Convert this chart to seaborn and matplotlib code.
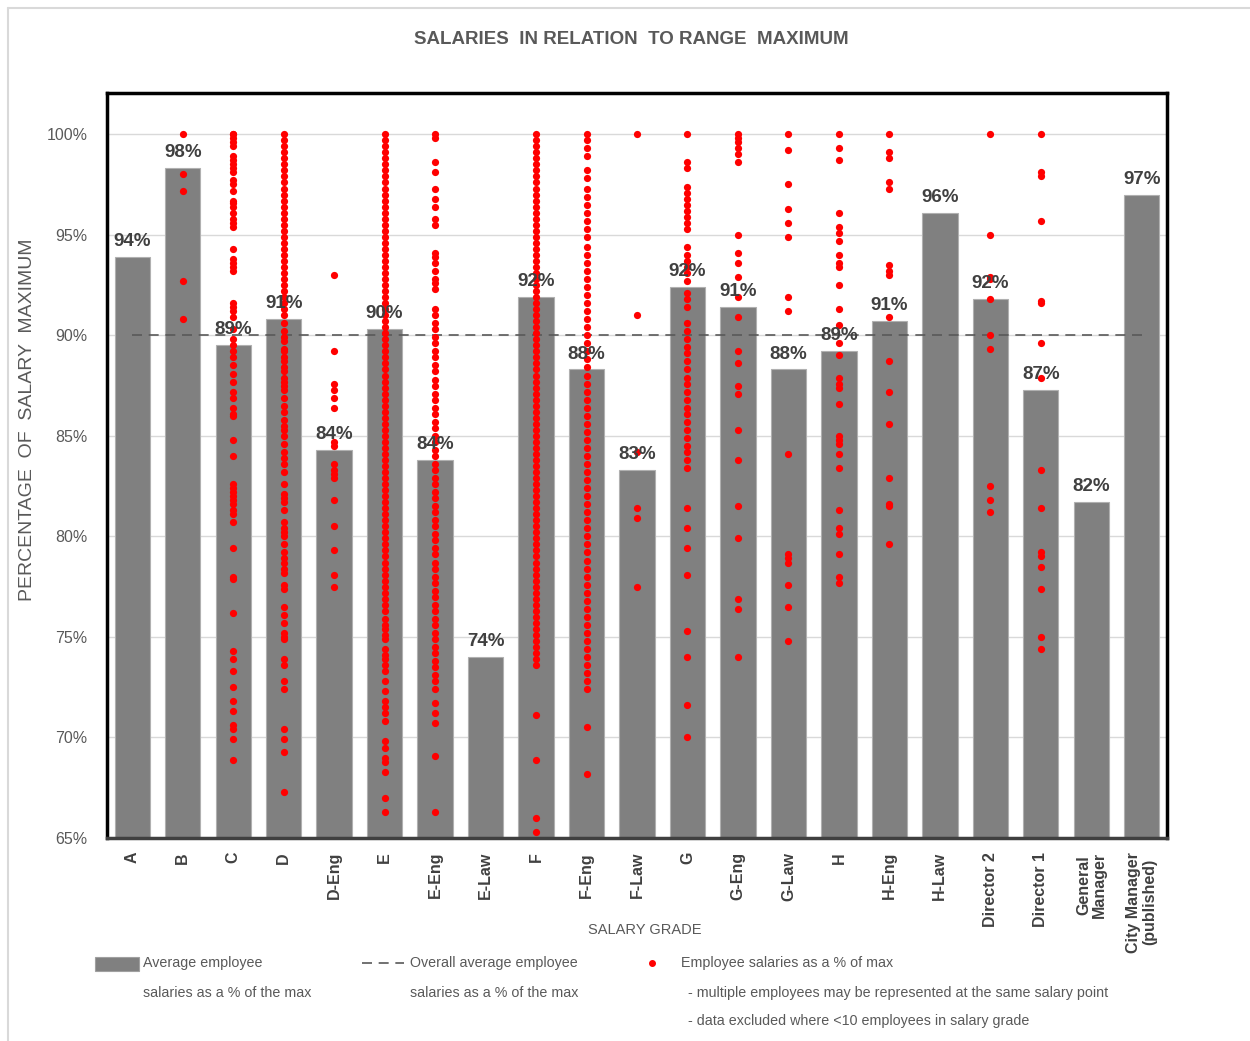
import pandas as pd
import matplotlib
matplotlib.use('Agg')
import matplotlib.pyplot as plt
import seaborn as sns
from matplotlib import font_manager
from matplotlib.patches import Rectangle
from matplotlib.lines import Line2D

# salary grades and average % of range maximum
grades = ['A', 'B', 'C', 'D', 'D-Eng', 'E', 'E-Eng', 'E-Law', 'F', 'F-Eng', 'F-Law',
          'G', 'G-Eng', 'G-Law', 'H', 'H-Eng', 'H-Law', 'Director 2', 'Director 1',
          'General\nManager', 'City Manager\n(published)']
avg_pct = [93.9, 98.3, 89.5, 90.8, 84.3, 90.3, 83.8, 74.0, 91.9, 88.3, 83.3,
           92.4, 91.4, 88.3, 89.2, 90.7, 96.1, 91.8, 87.3, 81.7, 97.0]
bar_labels = ['94%', '98%', '89%', '91%', '84%', '90%', '84%', '74%', '92%', '88%', '83%',
              '92%', '91%', '88%', '89%', '91%', '96%', '92%', '87%', '82%', '97%']
overall_avg = 90.0

# individual employees (% of max)
dots_B = [100.0, 98.0, 97.2, 92.7, 90.8]
dots_C = [100.0, 100.0, 99.8, 99.6, 99.4, 98.9, 98.7, 98.5, 98.3, 98.1, 97.7, 97.5, 97.2,
          96.7, 96.6, 96.4, 96.1, 95.8, 95.6, 95.4, 94.3, 93.8, 93.6, 93.4, 93.2, 91.6,
          91.4, 91.2, 90.9, 90.3, 89.8, 89.5, 89.2, 88.9, 88.5, 88.1, 87.7, 87.2, 86.9,
          86.4, 86.1, 86.0, 84.8, 84.0, 82.6, 82.4, 82.2, 82.0, 81.8, 81.6, 81.3, 81.1,
          80.7, 79.4, 78.0, 77.9, 76.2, 74.3, 73.9, 73.3, 72.5, 71.8, 71.3, 70.6, 70.4,
          69.9, 68.9]
dots_D = [100.0, 99.7, 99.4, 99.1, 98.8, 98.5, 98.2, 97.9, 97.6, 97.3, 97.0, 96.7, 96.4,
          96.1, 95.8, 95.5, 95.2, 94.9, 94.6, 94.3, 94.0, 93.7, 93.4, 93.1, 92.8, 92.5,
          92.2, 91.9, 91.6, 91.3, 91.0, 90.6, 90.2, 89.9, 89.7, 89.3, 89.2, 88.9, 88.7,
          88.4, 88.2, 87.9, 87.7, 87.5, 87.3, 86.9, 86.5, 86.2, 85.8, 85.5, 85.3, 85.0,
          84.6, 84.2, 83.9, 83.6, 83.2, 82.6, 82.1, 81.9, 81.7, 81.3, 80.7, 80.4, 80.2,
          80.0, 79.6, 79.2, 78.9, 78.7, 78.4, 78.2, 77.6, 77.4, 76.5, 76.1, 75.7, 75.2,
          75.0, 74.9, 73.9, 73.6, 72.8, 72.4, 70.4, 69.9, 69.3, 67.3]
dots_D_Eng = [93.0, 89.2, 87.6, 87.3, 86.9, 86.4, 84.7, 84.5, 83.6, 83.3, 83.1, 82.9,
              81.8, 80.5, 79.3, 78.1, 77.5]
solid_col = [100.0, 99.7, 99.4, 99.1, 98.8, 98.5, 98.2, 97.9, 97.6, 97.3, 97.0, 96.7,
             96.4, 96.1, 95.8, 95.5, 95.2, 94.9, 94.6, 94.3, 94.0, 93.7, 93.4, 93.1, 92.8,
             92.5, 92.2, 91.9, 91.6, 91.3, 91.0, 90.7, 90.4, 90.1, 89.8, 89.5, 89.2, 88.9,
             88.6, 88.3, 88.0, 87.7, 87.4, 87.1, 86.8, 86.5, 86.2, 85.9, 85.6, 85.3, 85.0,
             84.7, 84.4, 84.1, 83.8, 83.5, 83.2, 82.9, 82.6, 82.3, 82.0, 81.7, 81.4, 81.1,
             80.8, 80.5, 80.2, 79.9, 79.6, 79.3, 79.0, 78.7, 78.4, 78.1, 77.8, 77.5, 77.2,
             76.9, 76.6, 76.3]
dots_E = solid_col + [75.9, 75.6, 75.4, 75.1, 74.9, 74.4, 74.1, 73.9, 73.6, 73.3, 72.8,
                      72.3, 71.8, 71.5, 71.2, 70.8, 69.8, 69.5, 69.0, 68.8, 68.3, 67.0, 66.3]
dots_E_Eng = [100.0, 99.8, 98.6, 98.1, 97.3, 96.8, 96.4, 95.8, 95.5, 94.1, 93.9, 93.6,
              93.2, 92.8, 92.6, 92.3, 91.3, 91.0, 90.6, 90.3, 89.9, 89.6, 89.2, 88.9, 88.5,
              88.2, 87.8, 87.5, 87.1, 86.8, 86.4, 86.1, 85.7, 85.4, 85.0, 84.7, 84.3, 84.0,
              83.6, 83.3, 82.9, 82.6, 82.2, 81.9, 81.5, 81.2, 80.8, 80.5, 80.1, 79.8, 79.4,
              79.1, 78.7, 78.4, 78.0, 77.7, 77.3, 77.0, 76.6, 76.3, 75.9, 75.6, 75.2, 74.9,
              74.5, 74.2, 73.8, 73.5, 73.1, 72.8, 72.4, 71.7, 71.2, 70.7, 69.1, 66.3]
dots_F = solid_col + [76.0, 75.7, 75.4, 75.1, 74.8, 74.5, 74.2, 73.9, 73.6, 71.1, 68.9,
                      66.0, 65.3]
dots_F_Eng = [100.0, 99.7, 99.3, 98.9, 98.2, 97.8, 97.3, 96.9, 96.5, 96.1, 95.7, 95.3,
              94.9, 94.4, 94.0, 93.6, 93.2, 92.8, 92.4, 92.0, 91.6, 91.2, 90.8, 90.4, 90.0,
              89.6, 89.2, 88.8, 88.4, 88.0, 87.6, 87.2, 86.8, 86.4, 86.0, 85.6, 85.2, 84.8,
              84.4, 84.0, 83.6, 83.2, 82.8, 82.4, 82.0, 81.6, 81.2, 80.8, 80.4, 80.0, 79.6,
              79.2, 78.8, 78.4, 78.0, 77.6, 77.2, 76.8, 76.4, 76.0, 75.6, 75.2, 74.8, 74.4,
              74.0, 73.6, 73.2, 72.8, 72.4, 70.5, 68.2]
dots_F_Law = [100.0, 91.0, 84.2, 81.4, 80.9, 77.5]
dots_G = [100.0, 98.6, 98.3, 97.4, 97.1, 96.8, 96.5, 96.2, 95.9, 95.6, 95.3, 94.4, 94.0,
          93.7, 93.4, 93.1, 92.7, 92.1, 91.8, 91.4, 90.6, 90.2, 89.8, 89.4, 89.1, 88.7,
          88.3, 87.9, 87.6, 87.2, 86.8, 86.4, 86.1, 85.7, 85.3, 84.9, 84.5, 84.2, 83.8,
          83.4, 81.4, 80.4, 79.4, 78.1, 75.3, 74.0, 71.6, 70.0]
dots_G_Eng = [100.0, 99.8, 99.6, 99.3, 99.0, 98.6, 95.0, 94.1, 93.6, 92.9, 91.9, 90.9,
              89.2, 88.6, 87.5, 87.1, 85.3, 83.8, 81.5, 79.9, 76.9, 76.4, 74.0]
dots_G_Law = [100.0, 99.2, 97.5, 96.3, 95.6, 94.9, 91.9, 91.2, 84.1, 79.1, 78.9, 78.7,
              77.6, 76.5, 74.8]
dots_H = [100.0, 99.3, 98.7, 96.1, 95.4, 95.1, 94.7, 94.0, 93.6, 93.4, 92.5, 91.3, 90.5,
          89.6, 89.0, 87.9, 87.6, 87.4, 86.6, 85.0, 84.8, 84.6, 84.1, 83.4, 81.3, 80.4,
          80.1, 79.1, 78.0, 77.7]
dots_H_Eng = [100.0, 99.1, 98.8, 97.6, 97.3, 93.5, 93.2, 93.0, 90.9, 88.7, 87.2, 85.6,
              82.9, 81.6, 81.5, 79.6]
dots_Dir2 = [100.0, 95.0, 92.9, 92.8, 91.8, 90.0, 89.3, 82.5, 81.8, 81.2]
dots_Dir1 = [100.0, 98.1, 97.9, 95.7, 91.7, 91.6, 89.6, 87.9, 83.3, 81.4, 79.2, 79.0,
             78.5, 77.4, 75.0, 74.4]

dot_sets = {'B': dots_B, 'C': dots_C, 'D': dots_D, 'D-Eng': dots_D_Eng, 'E': dots_E,
            'E-Eng': dots_E_Eng, 'F': dots_F, 'F-Eng': dots_F_Eng, 'F-Law': dots_F_Law,
            'G': dots_G, 'G-Eng': dots_G_Eng, 'G-Law': dots_G_Law, 'H': dots_H,
            'H-Eng': dots_H_Eng, 'Director 2': dots_Dir2, 'Director 1': dots_Dir1}
df_dots = pd.DataFrame([(g, v) for g, vals in dot_sets.items() for v in vals],
                       columns=['grade', 'pct'])

sns.set_style('white')
names = {f.name for f in font_manager.fontManager.ttflist}
narrow = 'Liberation Sans Narrow' if 'Liberation Sans Narrow' in names else 'Liberation Sans'
plt.rcParams['font.family'] = ['Liberation Sans', 'DejaVu Sans']

W, H = 1250, 1041
fx = lambda px: px / W
fy = lambda py: 1 - py / H

fig = plt.figure(figsize=(12.5, 10.41), dpi=100)
ax = fig.add_axes([fx(107), fy(838), fx(1167) - fx(107), fy(93) - fy(838)])

sns.barplot(x=grades, y=avg_pct, order=grades, color='#808080', width=0.7,
            edgecolor='#b0b0b0', linewidth=0.8, saturation=1, ax=ax, zorder=2)
sns.stripplot(data=df_dots, x='grade', y='pct', order=grades, jitter=False,
              color='#ff0000', size=5.2, linewidth=0, ax=ax, zorder=4)
ax.hlines(overall_avg, 0, 20, colors='#595959', linestyles=(0, (6, 4)), lw=1.2, zorder=3)

for i, (v, lab) in enumerate(zip(avg_pct, bar_labels)):
    ax.annotate(lab, (i, v), xytext=(0, 5), textcoords='offset points', ha='center',
                va='bottom', fontsize=13.5, fontweight='bold', color='#404040', zorder=5)

ax.set_xlim(-0.5, 20.5)
ax.set_ylim(65, 102.05)
ax.set_yticks([65, 70, 75, 80, 85, 90, 95, 100])
ax.set_yticklabels(['65%', '70%', '75%', '80%', '85%', '90%', '95%', '100%'],
                   family=narrow, fontsize=11.5, color='#595959')
ax.yaxis.grid(True, color='#d9d9d9', lw=1)
ax.set_axisbelow(True)
ax.tick_params(axis='y', length=0, pad=14)

ax.set_xticks(range(len(grades)))
ax.set_xticklabels(grades, rotation=90, ha='center', va='top', fontsize=11.5,
                   fontweight='bold', color='#404040', linespacing=1.05)
ax.set_xticks([i - 0.5 for i in range(len(grades) + 1)], minor=True)
ax.tick_params(axis='x', which='major', length=0, pad=10)
ax.tick_params(axis='x', which='minor', length=6, color='#595959', width=1)
ax.set_xlabel('')
ax.set_ylabel('')

for s in ['top', 'left', 'right']:
    ax.spines[s].set_color('black')
    ax.spines[s].set_linewidth(2.5)
ax.spines['bottom'].set_color('#404040')
ax.spines['bottom'].set_linewidth(2.5)

# titles
fig.text(fx(631), fy(39), 'SALARIES  IN RELATION  TO RANGE  MAXIMUM', ha='center', va='center',
         family=narrow, fontsize=13.5, fontweight='bold', color='#595959')
fig.text(fx(28), fy(420), 'PERCENTAGE  OF  SALARY  MAXIMUM', rotation=90, ha='center',
         va='center', fontsize=14, color='#595959')
fig.text(fx(645), fy(930), 'SALARY GRADE', ha='center', va='center', family=narrow,
         fontsize=10.5, color='#595959')

# outer chart-area border
fig.add_artist(Line2D([fx(8), fx(8)], [fy(8), 0], color='#d9d9d9', lw=1.5))
fig.add_artist(Line2D([fx(8), 1], [fy(8), fy(8)], color='#d9d9d9', lw=1.5))

# legend
leg_kw = dict(family=narrow, fontsize=10.3, color='#595959', va='center', ha='left')
fig.add_artist(Rectangle((fx(95), fy(971)), fx(139) - fx(95), fy(957) - fy(971),
                         facecolor='#808080', edgecolor='#a0a0a0', lw=0.8))
fig.text(fx(143), fy(963), 'Average employee', **leg_kw)
fig.text(fx(143), fy(993), 'salaries as a % of the max', **leg_kw)
fig.add_artist(Line2D([fx(362), fx(404)], [fy(963), fy(963)], color='#595959', lw=1.2,
                      linestyle=(0, (6, 4))))
fig.text(fx(410), fy(963), 'Overall average employee', **leg_kw)
fig.text(fx(410), fy(993), 'salaries as a % of the max', **leg_kw)
fig.add_artist(Line2D([fx(652)], [fy(963)], marker='o', color='#ff0000', markersize=4,
                      linestyle='none'))
fig.text(fx(681), fy(963), 'Employee salaries as a % of max', **leg_kw)
fig.text(fx(688), fy(993), '- multiple employees may be represented at the same salary point',
         **leg_kw)
fig.text(fx(688), fy(1021), '- data excluded where <10 employees in salary grade', **leg_kw)

fig.savefig('out.png', dpi=100)
